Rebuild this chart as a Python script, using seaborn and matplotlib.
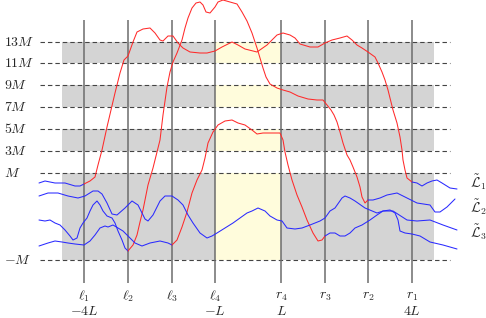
import seaborn as sns
from matplotlib import pyplot as plt

# y levels (image units, top = 0) and their labels
level_labels = ['$13M$', '$11M$', '$9M$', '$7M$', '$5M$', '$3M$', '$M$', '$-M$']
level_y = [42, 63, 85, 107, 129, 151, 173, 260]
band_rows = [(42, 63), (85, 107), (129, 151), (173, 260)]

left_x = [84, 128, 172, 215]
right_x = [412, 368, 325, 281]
left_names = [r'$\ell_1$', r'$\ell_2$', r'$\ell_3$', r'$\ell_4$']
right_names = ['$r_1$', '$r_2$', '$r_3$', '$r_4$']
scale_x = [84, 215, 281, 412]
scale_names = ['$-4L$', '$-L$', '$L$', '$4L$']

curve_names = [r'$\tilde{\mathcal{L}}_1$', r'$\tilde{\mathcal{L}}_2$', r'$\tilde{\mathcal{L}}_3$']
curve_name_y = [182, 207, 232]

# curve A: lifted between l1 and r1
a_x = [39, 45, 55, 65, 75, 80, 84, 90, 95, 98, 102, 107, 115, 120, 124, 128, 133, 137, 143, 150,
       155, 160, 163, 168, 173, 178, 183, 190, 200, 207, 215, 222, 232, 238, 245, 257, 267, 277,
       283, 290, 295, 300, 310, 318, 325, 332, 340, 347, 352, 357, 362, 368, 375, 378, 382, 385,
       388, 390, 393, 397, 400, 402, 403, 405, 407, 412, 417, 422, 427, 432, 437, 442, 450, 457]
a_y = [183, 181, 183, 183, 186, 186, 184, 181, 177, 165, 150, 127, 93, 73, 60, 56, 42, 32, 29, 28,
       33, 40, 41, 36, 36, 43, 48, 52, 53, 53, 51, 47, 42, 45, 49, 52, 45, 35,
       33, 35, 38, 44, 47, 47, 43, 40, 38, 36, 40, 45, 48, 52, 57, 63, 72, 80,
       90, 98, 110, 123, 137, 150, 160, 170, 178, 182, 183, 186, 183, 181, 180, 183, 188, 189]

# curve B: lifted between l2 and r2
b_x = [39, 45, 50, 55, 60, 65, 70, 73, 77, 80, 83, 87, 90, 93, 97, 100, 103, 107, 112, 115, 118,
       122, 125, 128, 133, 137, 140, 143, 145, 148, 153, 157, 160, 163, 167, 170, 173, 177, 182,
       185, 188, 192, 196, 200, 203, 206, 210, 215, 218, 223, 230, 237, 242, 247, 252, 257, 260,
       263, 266, 270, 277, 283, 290, 298, 308, 317, 323, 327, 331, 334, 337, 340, 343, 347, 350,
       353, 357, 360, 362, 365, 368, 373, 380, 387, 397, 407, 417, 430, 435, 440, 447, 455]
b_y = [220, 221, 220, 223, 225, 230, 236, 240, 238, 228, 223, 218, 211, 205, 201, 205, 211, 216,
       218, 223, 231, 240, 248, 251, 245, 235, 222, 210, 200, 185, 168, 152, 140, 115, 87, 72, 62,
       53, 40, 28, 18, 8, 3, 2, 5, 12, 13, 7, 2, 0, 2, 4, 12, 21, 33, 48, 58,
       68, 77, 84, 88, 90, 92, 96, 99, 100, 100, 105, 110, 115, 122, 132, 143, 155, 160,
       167, 177, 187, 197, 203, 200, 200, 198, 195, 193, 198, 203, 205, 212, 212, 207, 199]

# curve C: lifted between l3 and r3
c_x = [39, 48, 55, 62, 68, 75, 84, 90, 95, 100, 105, 108, 113, 118, 123, 128, 135, 142, 150, 160,
       168, 172, 177, 182, 187, 192, 197, 202, 205, 208, 213, 218, 225, 232, 238, 245, 252, 257,
       263, 273, 280, 283, 285, 288, 292, 297, 302, 307, 313, 318, 322, 325, 330, 335, 340, 345,
       350, 355, 362, 370, 377, 383, 390, 395, 398, 400, 405, 412, 420, 430, 443, 457]
c_y = [246, 243, 241, 242, 243, 244, 245, 241, 235, 228, 226, 227, 225, 228, 231, 236, 243, 246,
       243, 241, 243, 245, 240, 227, 212, 193, 180, 170, 158, 143, 132, 125, 121, 120, 123, 125,
       130, 134, 133, 133, 133, 140, 152, 165, 180, 195, 207, 220, 233, 241, 240, 236, 233, 233,
       236, 236, 233, 228, 225, 220, 215, 211, 210, 213, 220, 231, 233, 234, 236, 242, 245, 249]

# curve D: never lifted
d_x = [39, 48, 58, 68, 78, 85, 93, 98, 102, 107, 112, 117, 125, 132, 138, 142, 145, 148, 153, 160,
       165, 172, 178, 183, 188, 193, 200, 207, 212, 217, 225, 233, 240, 247, 252, 258, 265, 270,
       277, 282, 287, 295, 302, 310, 320, 325, 330, 335, 342, 345, 350, 355, 365, 377, 383, 393,
       407, 417, 430, 443, 457]
d_y = [196, 193, 193, 196, 198, 196, 191, 191, 194, 203, 214, 215, 208, 201, 205, 213, 219, 221,
       215, 201, 196, 196, 200, 205, 215, 223, 233, 238, 236, 233, 228, 223, 218, 213, 211, 208,
       211, 216, 220, 221, 228, 229, 228, 225, 221, 218, 211, 208, 198, 196, 198, 201, 208, 213,
       211, 211, 220, 221, 220, 225, 230]

curves = [(a_x, a_y, left_x[0], right_x[0]),
          (b_x, b_y, left_x[1], right_x[1]),
          (c_x, c_y, left_x[2], right_x[2]),
          (d_x, d_y, None, None)]

GRAY = '#d4d4d4'
YELLOW = '#fffcdc'
RED = '#ff2a2a'
BLUE = '#2a2aff'


def split_curve(xs, ys, lo, hi):
    """Parte una curva en tramos (x, y, color): azul fuera de [lo, hi], rojo dentro."""
    if lo is None:
        return [(xs, ys, BLUE)]
    left = [(x, y) for x, y in zip(xs, ys) if x <= lo]
    mid = [(x, y) for x, y in zip(xs, ys) if lo <= x <= hi]
    right = [(x, y) for x, y in zip(xs, ys) if x >= hi]
    out = []
    for pts, col in [(left, BLUE), (mid, RED), (right, BLUE)]:
        out.append(([p[0] for p in pts], [p[1] for p in pts], col))
    return out


sns.set_style("white")
plt.rcParams['mathtext.fontset'] = 'cm'

fig = plt.figure(figsize=(4.86, 3.18), dpi=100)
ax = fig.add_axes([0, 0, 1, 1])
ax.set_xlim(0, 486)
ax.set_ylim(318, 0)
ax.axis('off')

# bandas grises y zona amarilla entre l4 y r4
for y0, y1 in band_rows:
    ax.fill_between([62, 434], y0, y1, color=GRAY, lw=0, zorder=1)
    ax.fill_between([left_x[3], right_x[3]], y0, y1, color=YELLOW, lw=0, zorder=1.5)

ax.hlines(level_y, 40, 450, colors='#444444', lw=0.8, linestyles=(0, (4, 2.7)), zorder=2)
ax.vlines(left_x + right_x, 20, 283, colors='#6c6c6c', lw=1.1, zorder=3)

for xs, ys, lo, hi in curves:
    for sx, sy, col in split_curve(xs, ys, lo, hi):
        sns.lineplot(x=sx, y=sy, sort=False, estimator=None, color=col, linewidth=0.75, ax=ax,
                     zorder=4)

for lab, y in zip(level_labels, level_y):
    ax.text(4, y, lab, ha='left', va='center', fontsize=10)
for lab, x in zip(left_names + right_names, left_x + right_x):
    ax.text(x, 296, lab, ha='center', va='center', fontsize=10)
for lab, x in zip(scale_names, scale_x):
    ax.text(x, 311, lab, ha='center', va='center', fontsize=10)
for lab, y in zip(curve_names, curve_name_y):
    ax.text(470, y, lab, ha='left', va='center', fontsize=10)

fig.savefig('out.png', dpi=100)
